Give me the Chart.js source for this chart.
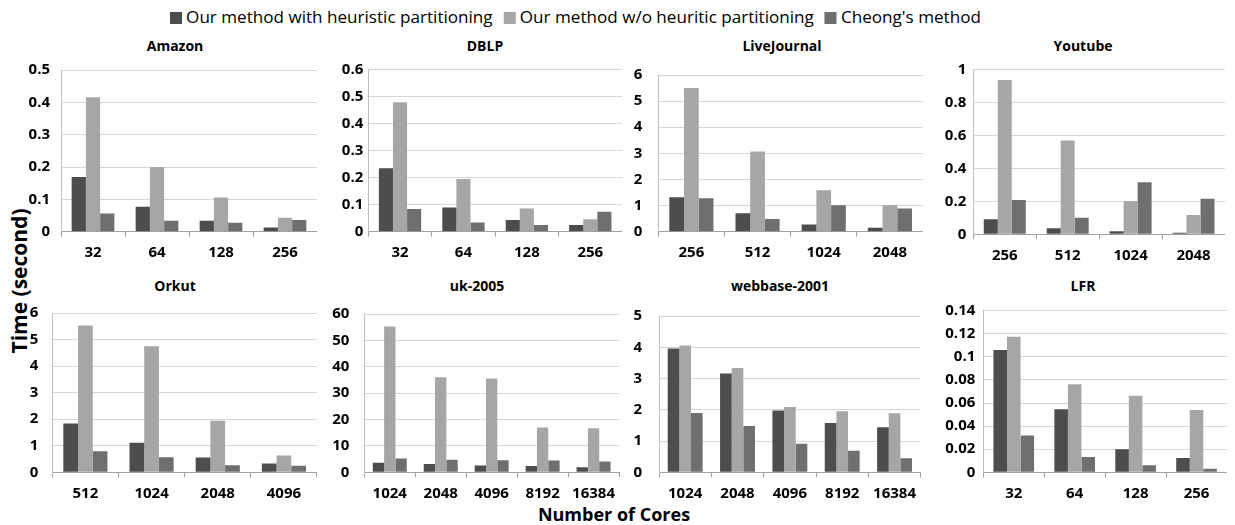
<!DOCTYPE html>
<html>
<head>
<meta charset="utf-8">
<script src="https://cdn.jsdelivr.net/npm/chart.js@4.4.1/dist/chart.umd.min.js"></script>
<style>
  html, body { margin: 0; padding: 0; background: #fff; overflow: hidden; }
  #wrap { position: relative; width: 1235px; height: 525px; font-family: "Open Sans", sans-serif; color: #000; }
  canvas { position: absolute; }
  #legend { position: absolute; left: 170px; top: 6px; white-space: nowrap; font-size: 17px; line-height: 22px; transform-origin: 0 50%; }
  #legend .item { display: inline-block; margin-right: 11px; }
  #legend .sw { display: inline-block; width: 12px; height: 12px; margin-right: 4px; vertical-align: -1px; }
  .ptitle { position: absolute; transform: translate(-50%, -50%); font-weight: bold; font-size: 14px; white-space: nowrap; }
  #ytitle { position: absolute; left: 19px; top: 281px; transform: translate(-50%, -50%) rotate(-90deg); font-weight: bold; font-size: 21px; white-space: nowrap; }
  #xtitle { position: absolute; left: 614px; top: 514px; transform: translate(-50%, -50%); font-weight: bold; font-size: 18px; white-space: nowrap; }
</style>
</head>
<body>
<div id="wrap">
  <div id="legend"></div>
  <div id="ytitle">Time (second)</div>
  <div id="xtitle">Number of Cores</div>
</div>
<script>
// Series shared by all panels
const seriesLabels = ['Our method with heuristic partitioning', 'Our method w/o heuritic partitioning', "Cheong's method"];
const seriesColors = ['#4d4d4d', '#a6a6a6', '#6f6f6f'];

// Running time (seconds) per dataset and number of cores
const amazonCores = ['32', '64', '128', '256'];
const amazonWith = [0.169, 0.077, 0.034, 0.013];
const amazonWithout = [0.416, 0.200, 0.106, 0.043];
const amazonCheong = [0.056, 0.034, 0.028, 0.036];

const dblpCores = ['32', '64', '128', '256'];
const dblpWith = [0.234, 0.089, 0.043, 0.025];
const dblpWithout = [0.478, 0.195, 0.086, 0.046];
const dblpCheong = [0.084, 0.034, 0.025, 0.074];

const liveJournalCores = ['256', '512', '1024', '2048'];
const liveJournalWith = [1.32, 0.71, 0.28, 0.15];
const liveJournalWithout = [5.50, 3.07, 1.59, 1.01];
const liveJournalCheong = [1.28, 0.49, 1.01, 0.89];

const youtubeCores = ['256', '512', '1024', '2048'];
const youtubeWith = [0.091, 0.036, 0.018, 0.010];
const youtubeWithout = [0.935, 0.568, 0.200, 0.117];
const youtubeCheong = [0.208, 0.101, 0.315, 0.216];

const orkutCores = ['512', '1024', '2048', '4096'];
const orkutWith = [1.84, 1.11, 0.56, 0.33];
const orkutWithout = [5.53, 4.75, 1.94, 0.63];
const orkutCheong = [0.79, 0.57, 0.27, 0.25];

const uk2005Cores = ['1024', '2048', '4096', '8192', '16384'];
const uk2005With = [3.6, 3.1, 2.6, 2.35, 1.9];
const uk2005Without = [55.3, 36.0, 35.6, 17.0, 16.7];
const uk2005Cheong = [5.2, 4.8, 4.6, 4.5, 4.1];

const webbaseCores = ['1024', '2048', '4096', '8192', '16384'];
const webbaseWith = [3.96, 3.16, 1.98, 1.58, 1.44];
const webbaseWithout = [4.06, 3.34, 2.09, 1.95, 1.89];
const webbaseCheong = [1.90, 1.48, 0.91, 0.69, 0.45];

const lfrCores = ['32', '64', '128', '256'];
const lfrWith = [0.106, 0.0546, 0.0199, 0.0124];
const lfrWithout = [0.1175, 0.0762, 0.0664, 0.054];
const lfrCheong = [0.0318, 0.0133, 0.006, 0.003];

// Panel titles and value axis ranges
const panelTitles = ['Amazon', 'DBLP', 'LiveJournal', 'Youtube', 'Orkut', 'uk-2005', 'webbase-2001', 'LFR'];
const axisMax = [0.5, 0.6, 6, 1, 6, 60, 5, 0.14];
const axisStep = [0.1, 0.1, 1, 0.2, 1, 10, 1, 0.02];

const panelData = [
  [amazonCores, amazonWith, amazonWithout, amazonCheong],
  [dblpCores, dblpWith, dblpWithout, dblpCheong],
  [liveJournalCores, liveJournalWith, liveJournalWithout, liveJournalCheong],
  [youtubeCores, youtubeWith, youtubeWithout, youtubeCheong],
  [orkutCores, orkutWith, orkutWithout, orkutCheong],
  [uk2005Cores, uk2005With, uk2005Without, uk2005Cheong],
  [webbaseCores, webbaseWith, webbaseWithout, webbaseCheong],
  [lfrCores, lfrWith, lfrWithout, lfrCheong]
];

// Panel placement: canvas left, plot left/right, title centre, tick label gap
const panelBoxes = [
  { L: 28,  A: 61,    R: 317,  tc: 175,  gap: 11, row: 0, xh: 30.3 },
  { L: 325, A: 368.3, R: 622,  tc: 485,  gap: 5,  row: 0, xh: 30.3 },
  { L: 628, A: 658.3, R: 923,  tc: 782,  gap: 16, row: 0, xh: 30.3 },
  { L: 930, A: 973.3, R: 1225, tc: 1083, gap: 7,  row: 0, xh: 27.7 },
  { L: 25,  A: 52.3,  R: 317,  tc: 175,  gap: 14, row: 1, xh: 32.7 },
  { L: 323, A: 364.3, R: 622,  tc: 477,  gap: 15, row: 1, xh: 32.7 },
  { L: 628, A: 659,   R: 923,  tc: 780,  gap: 17, row: 1, xh: 32.7 },
  { L: 932, A: 983.3, R: 1227, tc: 1083, gap: 8,  row: 1, xh: 32.7 }
];
const rows = [
  { T: 50,  H: 212, padTop: 19.3, titleY: 45 },
  { T: 290, H: 215, padTop: 20.7, titleY: 285 }
];

// Legend
const legend = document.getElementById('legend');
seriesLabels.forEach((label, i) => {
  const item = document.createElement('span');
  item.className = 'item';
  const sw = document.createElement('span');
  sw.className = 'sw';
  sw.style.background = seriesColors[i];
  item.appendChild(sw);
  item.appendChild(document.createTextNode(label));
  legend.appendChild(item);
});
const legendWidth = 822;
legend.style.transform = 'scaleX(' + (legendWidth / legend.getBoundingClientRect().width) + ')';

const wrap = document.getElementById('wrap');
const fmt = v => String(+Number(v).toFixed(4));
const tickFont = { family: 'Open Sans', size: 15, weight: 'bold' };

panelBoxes.forEach((b, p) => {
  const row = rows[b.row];
  const W = b.R - b.L;
  const yw = b.A - b.L;

  const title = document.createElement('div');
  title.className = 'ptitle';
  title.style.left = b.tc + 'px';
  title.style.top = row.titleY + 'px';
  title.textContent = panelTitles[p];
  wrap.appendChild(title);

  const canvas = document.createElement('canvas');
  canvas.width = W;
  canvas.height = row.H;
  canvas.style.left = b.L + 'px';
  canvas.style.top = row.T + 'px';
  canvas.style.width = W + 'px';
  canvas.style.height = row.H + 'px';
  wrap.appendChild(canvas);

  const [cores, withH, withoutH, cheong] = panelData[p];
  new Chart(canvas, {
    type: 'bar',
    data: {
      labels: cores,
      datasets: [withH, withoutH, cheong].map((d, i) => ({
        label: seriesLabels[i],
        data: d,
        backgroundColor: seriesColors[i],
        borderWidth: 0,
        barPercentage: 1.0,
        categoryPercentage: 0.667
      }))
    },
    options: {
      responsive: false,
      animation: false,
      devicePixelRatio: 1,
      layout: { padding: { left: 0, right: 0, top: row.padTop, bottom: 0 } },
      plugins: {
        legend: { display: false },
        tooltip: { enabled: false },
        title: { display: false }
      },
      scales: {
        x: {
          afterFit: s => { s.height = b.xh; },
          border: { color: '#a0a0a0' },
          grid: { offset: true, drawOnChartArea: false, drawTicks: true, tickLength: 5, color: '#a0a0a0' },
          ticks: { color: '#000', autoSkip: false, maxRotation: 0, padding: 7, font: tickFont }
        },
        y: {
          min: 0,
          max: axisMax[p],
          afterFit: s => { s.width = yw; },
          border: { color: '#bfbfbf' },
          grid: { color: '#d6d6d6', drawTicks: false },
          ticks: { stepSize: axisStep[p], color: '#000', padding: b.gap, callback: fmt, font: tickFont }
        }
      }
    }
  });
});
</script>
</body>
</html>
